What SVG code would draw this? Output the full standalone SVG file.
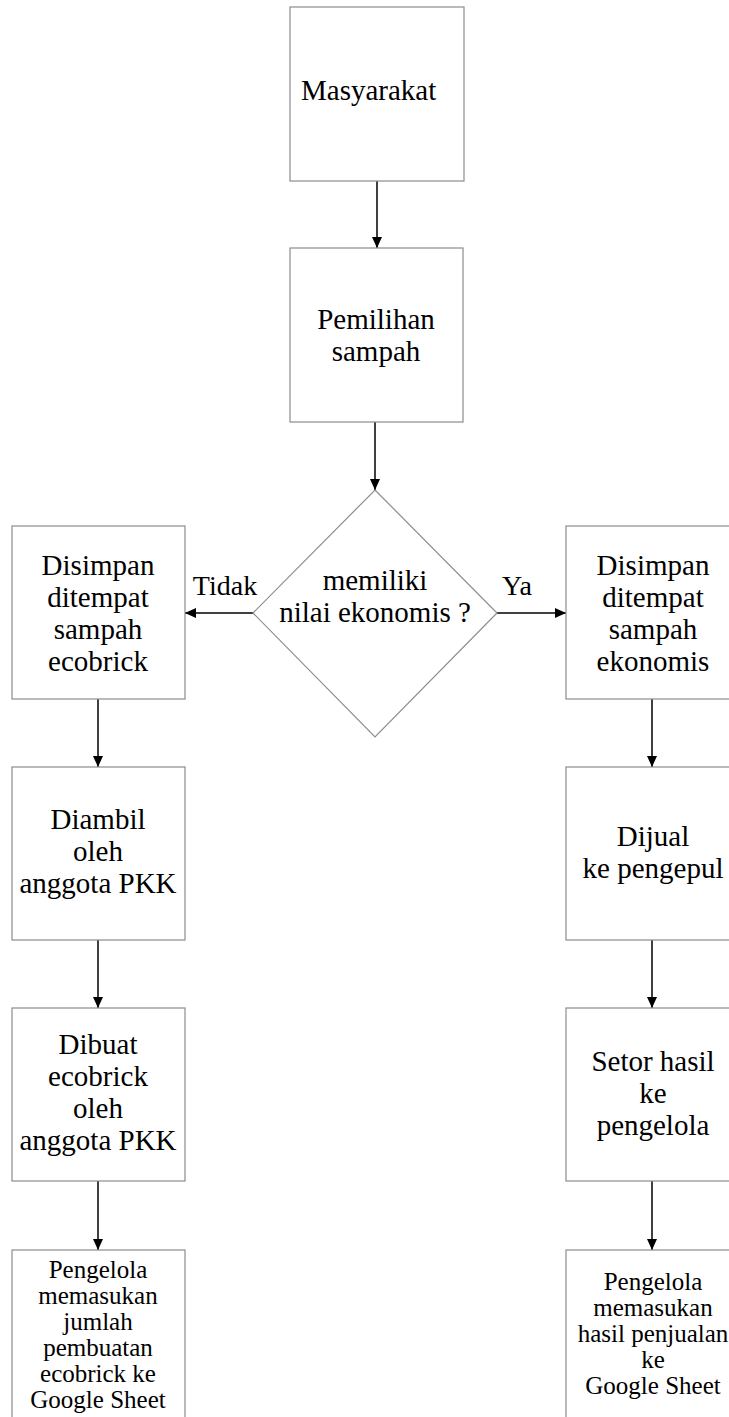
<svg xmlns="http://www.w3.org/2000/svg" width="729" height="1417" viewBox="0 0 729 1417">
<style>
.box{fill:#fff;stroke:#8c8c8c;stroke-width:1.2}
.t{font-family:"Liberation Serif","Times New Roman",serif;font-size:29px;fill:#000;text-anchor:middle}
.s{font-family:"Liberation Serif","Times New Roman",serif;font-size:25px;fill:#000;text-anchor:middle}
.lbl{font-family:"Liberation Serif","Times New Roman",serif;font-size:28px;fill:#000;text-anchor:middle}
.c{stroke:#000;stroke-width:1.5;fill:none;marker-end:url(#ah)}
</style>
<defs>
<marker id="ah" markerUnits="userSpaceOnUse" markerWidth="11" markerHeight="10" refX="11" refY="5" orient="auto">
<path d="M0,0 L11,5 L0,10 z" fill="#000"/>
</marker>
</defs>
<rect width="729" height="1417" fill="#fff"/>
<g id="connectors">
<line class="c" x1="377" y1="181" x2="377" y2="248"/>
<line class="c" x1="375" y1="422" x2="375" y2="490"/>
<line class="c" x1="253" y1="613" x2="185" y2="613"/>
<line class="c" x1="497" y1="613" x2="566" y2="613"/>
<line class="c" x1="98" y1="699" x2="98" y2="767"/>
<line class="c" x1="98" y1="940" x2="98" y2="1008"/>
<line class="c" x1="98" y1="1181" x2="98" y2="1250"/>
<line class="c" x1="652" y1="699" x2="652" y2="767"/>
<line class="c" x1="652" y1="940" x2="652" y2="1008"/>
<line class="c" x1="652" y1="1181" x2="652" y2="1250"/>
<text class="lbl" x="225" y="595">Tidak</text>
<text class="lbl" x="517" y="595">Ya</text>
</g>
<g id="n1">
<rect class="box" x="290" y="7" width="174" height="174"/>
<text class="t" x="301" y="100" style="text-anchor:start">Masyarakat</text>
</g>
<g id="n2">
<rect class="box" x="290" y="248" width="173" height="174"/>
<text class="t" x="376" y="329">Pemilihan</text>
<text class="t" x="376" y="361">sampah</text>
</g>
<g id="n3">
<polygon class="box" points="375,490 497,613 375,737 253,613"/>
<text class="t" x="375" y="590">memiliki</text>
<text class="t" x="375" y="622">nilai ekonomis ?</text>
</g>
<g id="n4">
<rect class="box" x="12" y="526" width="173" height="173"/>
<text class="t" x="98" y="575">Disimpan</text>
<text class="t" x="98" y="607">ditempat</text>
<text class="t" x="98" y="639">sampah</text>
<text class="t" x="98" y="671">ecobrick</text>
</g>
<g id="n5">
<rect class="box" x="566" y="526" width="173" height="173"/>
<text class="t" x="653" y="575">Disimpan</text>
<text class="t" x="653" y="607">ditempat</text>
<text class="t" x="653" y="639">sampah</text>
<text class="t" x="653" y="671">ekonomis</text>
</g>
<g id="n6">
<rect class="box" x="12" y="767" width="173" height="173"/>
<text class="t" x="98" y="829">Diambil</text>
<text class="t" x="98" y="861">oleh</text>
<text class="t" x="98" y="893">anggota PKK</text>
</g>
<g id="n7">
<rect class="box" x="12" y="1008" width="173" height="173"/>
<text class="t" x="98" y="1054">Dibuat</text>
<text class="t" x="98" y="1086">ecobrick</text>
<text class="t" x="98" y="1118">oleh</text>
<text class="t" x="98" y="1150">anggota PKK</text>
</g>
<g id="n8">
<rect class="box" x="12" y="1250" width="173" height="180"/>
<text class="s" x="98" y="1278">Pengelola</text>
<text class="s" x="98" y="1304">memasukan</text>
<text class="s" x="98" y="1330">jumlah</text>
<text class="s" x="98" y="1356">pembuatan</text>
<text class="s" x="98" y="1382">ecobrick ke</text>
<text class="s" x="98" y="1408">Google Sheet</text>
</g>
<g id="n9">
<rect class="box" x="566" y="767" width="173" height="173"/>
<text class="t" x="653" y="846">Dijual</text>
<text class="t" x="653" y="878">ke pengepul</text>
</g>
<g id="n10">
<rect class="box" x="566" y="1008" width="173" height="173"/>
<text class="t" x="653" y="1071">Setor hasil</text>
<text class="t" x="653" y="1103">ke</text>
<text class="t" x="653" y="1135">pengelola</text>
</g>
<g id="n11">
<rect class="box" x="566" y="1250" width="173" height="180"/>
<text class="s" x="653" y="1290">Pengelola</text>
<text class="s" x="653" y="1316">memasukan</text>
<text class="s" x="653" y="1342">hasil penjualan</text>
<text class="s" x="653" y="1368">ke</text>
<text class="s" x="653" y="1394">Google Sheet</text>
</g>
</svg>
